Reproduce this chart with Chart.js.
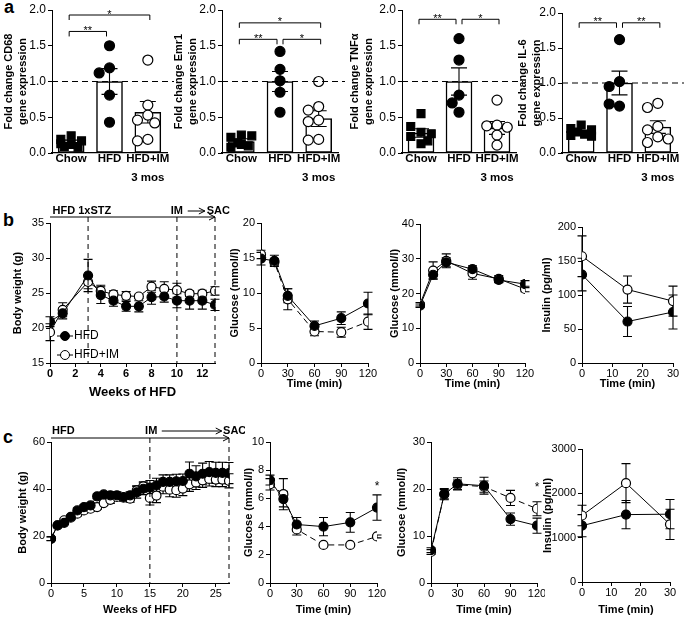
<!DOCTYPE html>
<html>
<head>
<meta charset="utf-8">
<script src="https://cdn.jsdelivr.net/npm/chart.js@4.4.0/dist/chart.umd.min.js"></script>
<style>
  body { margin: 0; background: #fff; }
  #fig { position: relative; width: 685px; height: 617px; overflow: hidden; background: #fff; }
  #fig canvas { position: absolute; }
  .panel-letter { position: absolute; font: bold 18px 'Liberation Sans', Arial, sans-serif; line-height: 18px; }
</style>
</head>
<body>
<div id="fig">
  <div class="panel-letter" style="left:4px;top:-2px">a</div>
  <div class="panel-letter" style="left:3px;top:211px">b</div>
  <div class="panel-letter" style="left:3px;top:428px">c</div>
</div>
<script>
const FONT = "'Liberation Sans', Arial, Helvetica, sans-serif";

// ---------- a: fold change gene expression (each mouse + mean / SEM)
const groupLabels = ["Chow", "HFD", ["HFD+IM", "3 mos"]];

const cd68Chow = [0.24, 0.19, 0.17, 0.12, 0.09, 0.08, 0.13];
const cd68Hfd = [1.50, 1.19, 1.12, 0.81, 0.43];
const cd68Im = [1.30, 0.67, 0.53, 0.46, 0.42, 0.19, 0.17];
const cd68Mean = [0.15, 1.0, 0.57];
const cd68Sem = [0.03, 0.18, 0.15];
const cd68Sig = [[0, 1, 1.70, "**"], [0, 2, 1.93, "*"]];

const emr1Chow = [0.25, 0.22, 0.24, 0.14, 0.10, 0.08, 0.12];
const emr1Hfd = [1.42, 1.17, 1.01, 0.85, 0.57];
const emr1Im = [1.00, 0.65, 0.60, 0.46, 0.44, 0.19, 0.18];
const emr1Mean = [0.16, 1.0, 0.48];
const emr1Sem = [0.04, 0.14, 0.11];
const emr1Sig = [[0, 2, 1.82, "*"], [0, 1, 1.59, "**"], [1, 2, 1.59, "*"]];

const tnfChow = [0.55, 0.29, 0.23, 0.37, 0.27, 0.13, 0.17];
const tnfHfd = [1.60, 1.30, 0.81, 0.70, 0.57];
const tnfIm = [0.74, 0.39, 0.38, 0.36, 0.25, 0.11];
const tnfMean = [0.28, 1.0, 0.35];
const tnfSem = [0.06, 0.19, 0.09];
const tnfSig = [[0, 1, 1.87, "**"], [1, 2, 1.87, "*"]];

const il6Chow = [0.40, 0.35, 0.33, 0.30, 0.27, 0.25, 0.24];
const il6Hfd = [1.62, 1.02, 0.95, 0.67, 0.70];
const il6Im = [0.71, 0.65, 0.38, 0.33, 0.23, 0.15, 0.20];
const il6Mean = [0.30, 1.0, 0.37];
const il6Sem = [0.02, 0.17, 0.09];
const il6Sig = [[0, 1, 1.86, "**"], [1, 2, 1.86, "**"]];

// ---------- b: HFD + 1xSTZ model
const weeksB = [0, 1, 3, 4, 5, 6, 7, 8, 9, 10, 11, 12, 13];
const bwHfdB = [20.9, 22.1, 27.5, 24.7, 23.9, 23.1, 23.1, 24.4, 24.5, 23.9, 23.9, 23.9, 23.3];
const bwHfdBErr = [0.7, 0.8, 2.3, 1.2, 0.8, 0.7, 0.8, 1.0, 0.8, 1.0, 1.2, 1.2, 0.8];
const bwImB = [19.4, 22.6, 26.6, 25.3, 24.8, 24.6, 24.5, 25.9, 25.6, 25.4, 24.9, 24.9, 25.3];
const bwImBErr = [1.2, 1.0, 1.0, 0.8, 0.5, 0.6, 0.3, 0.8, 1.0, 1.0, 0.4, 0.5, 0.6];

const tolTime = [0, 15, 30, 60, 90, 120];
const ittHfdB = [14.9, 14.6, 9.6, 5.3, 6.4, 8.5];
const ittHfdBErr = [0.9, 0.8, 1.0, 0.7, 0.9, 1.6];
const ittImB = [15.5, 14.4, 9.1, 4.5, 4.4, 5.9];
const ittImBErr = [0.6, 0.5, 1.5, 0.6, 0.7, 1.1];

const gttHfdB = [16.5, 25.4, 29.0, 27.0, 23.9, 22.7];
const gttHfdBErr = [0.5, 1.2, 1.3, 1.0, 0.8, 1.0];
const gttImB = [16.9, 26.6, 29.4, 25.8, 24.2, 21.3];
const gttImBErr = [0.5, 2.5, 2.0, 1.7, 1.0, 0.8];

const insTime = [0, 15, 30];
const insHfdB = [130, 61, 75];
const insHfdBErr = [24, 22, 25];
const insImB = [157, 108, 91];
const insImBErr = [30, 20, 22];

// ---------- c: long HFD model
const weeksC = [0, 1, 2, 3, 4, 5, 6, 7, 8, 9, 10, 11, 12, 13, 14, 15, 16, 17, 18, 19, 20, 21, 22, 23, 24, 25, 26, 27];
const bwHfdC = [18.8, 24.5, 25.6, 28.1, 30.9, 32.3, 33.0, 36.9, 37.7, 37.3, 37.3, 36.6, 37.3, 38.6, 40.1, 40.6, 41.6, 43.0, 43.0, 43.3, 43.4, 46.5, 45.4, 46.5, 47.2, 46.9, 46.9, 46.8];
const bwHfdCErr = [0.8, 0.8, 0.8, 0.9, 1, 1, 1, 1, 1, 1.5, 1.5, 1.5, 1.5, 2.5, 2.5, 3, 3, 3, 3, 3, 3, 5, 4.5, 4.5, 4.5, 4.5, 4.5, 4.5];
const bwImC = [18.9, 24.5, 26.7, 27.8, 29.5, 30.9, 31.6, 32.3, 34.0, 35.4, 36.6, 36.3, 35.9, 39.4, 41.1, 36.2, 37.2, 41.0, 39.7, 39.5, 40.2, 42.0, 42.8, 43.7, 44.3, 44.0, 44.0, 43.5];
const bwImCErr = [0.8, 0.8, 0.8, 0.9, 1, 1, 1, 1, 1, 1.5, 1.5, 1.5, 1.5, 2, 2, 3, 3, 3, 3, 3, 3, 3, 3, 3, 3, 3, 3, 3];

const ittHfdC = [7.3, 5.95, 4.15, 4.0, 4.3, 5.35];
const ittHfdCErr = [0.35, 0.55, 0.5, 0.65, 0.7, 0.9];
const ittImC = [7.0, 6.3, 3.8, 2.7, 2.7, 3.3];
const ittImCErr = [0.4, 1.1, 0.4, 0.1, 0.1, 0.1];
const ittStarC = [[120, 6.8]];

const gttHfdC = [7.0, 18.9, 21.1, 20.7, 13.6, 12.2];
const gttHfdCErr = [0.5, 1.0, 1.3, 1.8, 1.3, 1.6];
const gttImC = [6.6, 18.9, 20.9, 20.5, 18.1, 15.8];
const gttImCErr = [0.5, 1.2, 1.0, 1.2, 1.6, 1.5];
const gttStarC = [[120, 20.2]];

const insHfdC = [1270, 1520, 1530];
const insHfdCErr = [250, 320, 330];
const insImC = [1500, 2230, 1300];
const insImCErr = [230, 440, 340];

// ------------------------------------------------------------------
Chart.defaults.font.family = FONT;
Chart.defaults.color = "#000";

const fig = document.getElementById("fig");
const decorCfg = {};

function makeCanvas(id, box, m) {
    const cv = document.createElement("canvas");
    const w = box.r - box.l + m.l + m.r;
    const h = box.b - box.t + m.t + m.b;
    cv.id = id;
    cv.width = w;
    cv.height = h;
    cv.style.left = (box.l - m.l) + "px";
    cv.style.top = (box.t - m.t) + "px";
    cv.style.width = w + "px";
    cv.style.height = h + "px";
    fig.appendChild(cv);
    return cv;
}

function drawErrors(chart, ds) {
    const ctx = chart.ctx;
    const xs = chart.scales.x, ys = chart.scales.y;
    const cap = ds.capWidth || 9;
    ctx.save();
    ctx.strokeStyle = "#000";
    ctx.lineWidth = 1.1;
    ds.data.forEach((p, j) => {
        const e = ds.errors[j];
        if (!e) return;
        const x = xs.getPixelForValue(p.x);
        const y1 = ys.getPixelForValue(p.y + e);
        const y2 = ys.getPixelForValue(p.y - e);
        ctx.beginPath();
        ctx.moveTo(x, y1); ctx.lineTo(x, y2);
        ctx.moveTo(x - cap / 2, y1); ctx.lineTo(x + cap / 2, y1);
        ctx.moveTo(x - cap / 2, y2); ctx.lineTo(x + cap / 2, y2);
        ctx.stroke();
    });
    ctx.restore();
}

// error bars: under the markers for lines, on top of the bar for bar panels
const errorBars = {
    id: "errorBars",
    beforeDatasetsDraw(chart) {
        chart.data.datasets.forEach(ds => {
            if (ds.errors && ds.type !== "bar") drawErrors(chart, ds);
        });
    },
    afterDatasetDraw(chart, args) {
        const ds = chart.data.datasets[args.index];
        if (ds.errors && ds.type === "bar") drawErrors(chart, ds);
    },
};

function seg(ctx, x1, y1, x2, y2) {
    ctx.beginPath();
    ctx.moveTo(x1, y1);
    ctx.lineTo(x2, y2);
    ctx.stroke();
}

function arrowHead(ctx, x, y) {
    ctx.beginPath();
    ctx.moveTo(x - 6, y - 3);
    ctx.lineTo(x, y);
    ctx.lineTo(x - 6, y + 3);
    ctx.stroke();
}

// dashed reference line, significance brackets, timeline, legend, stars
const decor = {
    id: "decor",
    afterDraw(chart) {
        const d = decorCfg[chart.canvas.id];
        if (!d) return;
        const ctx = chart.ctx;
        const a = chart.chartArea;
        const x = chart.scales.x, y = chart.scales.y;
        ctx.save();
        ctx.strokeStyle = "#000";
        ctx.fillStyle = "#000";
        ctx.lineWidth = 1;

        if (d.refLine != null) {
            const py = y.getPixelForValue(d.refLine);
            ctx.setLineDash([6, 4]);
            ctx.lineWidth = 1.2;
            seg(ctx, a.left, py, a.right + 7, py);
            ctx.setLineDash([]);
            ctx.lineWidth = 1;
        }

        (d.brackets || []).forEach(([i0, i1, yv, label]) => {
            const xa = x.getPixelForValue(i0) + (i0 === 1 ? 3 : -2);
            const xb = x.getPixelForValue(i1) + (i1 === 1 ? -3 : 2);
            const py = y.getPixelForValue(yv);
            ctx.beginPath();
            ctx.moveTo(xa, py + 5);
            ctx.lineTo(xa, py);
            ctx.lineTo(xb, py);
            ctx.lineTo(xb, py + 5);
            ctx.stroke();
            ctx.font = "11px " + FONT;
            ctx.textAlign = "center";
            ctx.textBaseline = "alphabetic";
            ctx.fillText(label, (xa + xb) / 2, py + 2.5);
        });

        (d.stars || []).forEach(([sx, sy]) => {
            ctx.font = "12px " + FONT;
            ctx.textAlign = "center";
            ctx.textBaseline = "middle";
            ctx.fillText("*", x.getPixelForValue(sx), y.getPixelForValue(sy));
        });

        if (d.timeline) {
            const t = d.timeline;
            const ay = a.top - t.gap;
            ctx.setLineDash([5, 4]);
            t.vlines.forEach(v => {
                const px = x.getPixelForValue(v);
                seg(ctx, px, ay, px, a.bottom);
            });
            ctx.setLineDash([]);
            const x0 = x.getPixelForValue(x.min), x1 = x.getPixelForValue(x.max);
            seg(ctx, x0, ay, x1, ay);
            arrowHead(ctx, x1, ay);
            ctx.font = "bold 11px " + FONT;
            ctx.textBaseline = "middle";
            const ty = ay - t.textGap;
            t.labels.forEach(l => {
                ctx.textAlign = l.align;
                ctx.fillText(l.text, x.getPixelForValue(l.x), ty);
            });
            t.arrows.forEach(([f, to]) => {
                const pf = x.getPixelForValue(f), pt = x.getPixelForValue(to);
                seg(ctx, pf, ty, pt, ty);
                arrowHead(ctx, pt, ty);
            });
        }

        if (d.legend) {
            ctx.font = "12px " + FONT;
            ctx.textAlign = "left";
            ctx.textBaseline = "middle";
            d.legend.forEach((it, k) => {
                const ly = a.bottom - (k === 0 ? 27 : 8);
                const lx = a.left + 7;
                seg(ctx, lx, ly, lx + 16, ly);
                ctx.beginPath();
                ctx.arc(lx + 8, ly, 4.5, 0, Math.PI * 2);
                ctx.fillStyle = it.open ? "#fff" : "#000";
                ctx.fill();
                ctx.stroke();
                ctx.fillStyle = "#000";
                ctx.fillText(it.text, lx + 17, ly);
            });
        }
        ctx.restore();
    },
};

Chart.register(errorBars, decor);

function baseOptions(m, scales) {
    return {
        responsive: false,
        animation: false,
        devicePixelRatio: 1,
        events: [],
        layout: { padding: { left: 0, top: m.t, right: m.r, bottom: 0 } },
        plugins: { legend: { display: false }, tooltip: { enabled: false } },
        scales: scales,
    };
}

function yScale(m, min, max, step, title, pt, fmt, tickSize) {
    return {
        type: "linear",
        min: min,
        max: max,
        afterFit: s => { s.width = m.l; s.paddingTop = 0; s.paddingBottom = 0; },
        border: { display: true, color: "#000", width: 1 },
        grid: { display: true, drawOnChartArea: false, drawTicks: true, tickLength: 4, color: "#000", lineWidth: 1 },
        ticks: { stepSize: step, padding: 2, autoSkip: false, font: { size: tickSize || 11 }, callback: fmt || (v => v) },
        title: { display: true, text: title, font: { size: 11, weight: "bold", lineHeight: 1.25 }, padding: { top: pt, bottom: 0 } },
    };
}

function xScale(m, min, max, step, title, titleSize, tickBold) {
    return {
        type: "linear",
        min: min,
        max: max,
        offset: false,
        afterFit: s => { s.height = m.b; s.paddingLeft = 0; s.paddingRight = 0; },
        border: { display: true, color: "#000", width: 1 },
        grid: { display: true, drawOnChartArea: false, drawTicks: true, tickLength: 4, color: "#000", lineWidth: 1 },
        ticks: { stepSize: step, includeBounds: false, autoSkip: false, maxRotation: 0, padding: 0,
                 font: { size: 11, weight: tickBold ? "bold" : "normal" }, callback: v => v },
        title: { display: true, text: title, font: { size: titleSize || 11, weight: "bold" }, padding: { top: 0, bottom: 0 } },
    };
}

// simple beeswarm so the dots of one group do not sit on each other
function swarm(vals, center) {
    const placed = [];
    const cand = [0, -0.18, 0.18, -0.09, 0.09, -0.27, 0.27];
    return vals.map(v => {
        let best = 0, bestD = -1;
        for (const c of cand) {
            let dmin = Infinity;
            placed.forEach(p => {
                dmin = Math.min(dmin, Math.hypot((p.x - c) * 38, (p.y - v) * 71.5));
            });
            if (dmin >= 10) { best = c; break; }
            if (dmin > bestD) { bestD = dmin; best = c; }
        }
        placed.push({ x: best, y: v });
        return { x: center + best, y: v };
    });
}

function pointSet(data, style, radius, fill) {
    return {
        type: "scatter",
        data: data,
        pointStyle: style,
        pointRadius: radius,
        pointBackgroundColor: fill,
        pointBorderColor: "#000",
        pointBorderWidth: 1.2,
        order: 0,
    };
}

function barPanel(id, box, m, pt, title, d) {
    const cv = makeCanvas(id, box, m);
    const pts = [d.chow, d.hfd, d.im].map((v, i) => swarm(v, i));
    decorCfg[id] = { refLine: 1, brackets: d.sig };
    return new Chart(cv, {
        type: "bar",
        data: {
            datasets: [
                pointSet(pts[0], "rect", 5.6, "#000"),
                pointSet(pts[1], "circle", 5, "#000"),
                pointSet(pts[2], "circle", 5, "#fff"),
                {
                    type: "bar",
                    data: d.mean.map((v, i) => ({ x: i, y: v })),
                    errors: d.sem,
                    capWidth: 16,
                    backgroundColor: "#fff",
                    borderColor: "#000",
                    borderWidth: 1.5,
                    borderSkipped: false,
                    barThickness: 26,
                    order: 1,
                },
            ],
        },
        options: baseOptions(m, {
            x: {
                type: "linear",
                min: -0.5,
                max: 2.5,
                offset: false,
                afterBuildTicks: s => { s.ticks = [0, 1, 2].map(v => ({ value: v })); },
                afterFit: s => { s.height = m.b; s.paddingLeft = 0; s.paddingRight = 0; },
                border: { display: true, color: "#000", width: 1.2 },
                grid: { display: false, drawTicks: false },
                ticks: { autoSkip: false, maxRotation: 0, padding: -3,
                         font: { size: 11.5, weight: "bold", lineHeight: 1.6 }, callback: v => groupLabels[v] },
            },
            y: yScale(m, 0, 2, 0.5, title, pt, v => v.toFixed(1), 12),
        }),
    });
}

function series(xv, yv, err, open, dash) {
    return {
        type: "line",
        data: xv.map((x, i) => ({ x: x, y: yv[i] })),
        errors: err,
        borderColor: "#000",
        borderWidth: 1,
        borderDash: dash ? [6, 4] : [],
        tension: 0,
        fill: false,
        pointRadius: 4.5,
        pointBackgroundColor: open ? "#fff" : "#000",
        pointBorderColor: "#000",
        pointBorderWidth: 1.2,
    };
}

function linePanel(id, box, m, o) {
    const cv = makeCanvas(id, box, m);
    if (o.decor) decorCfg[id] = o.decor;
    return new Chart(cv, {
        type: "line",
        data: { datasets: o.series },
        options: baseOptions(m, {
            x: xScale(m, o.x[0], o.x[1], o.x[2], o.xTitle, o.xTitleSize, o.xBold),
            y: yScale(m, o.y[0], o.y[1], o.y[2], o.yTitle, o.pt),
        }),
    });
}

// ---------------- row a
barPanel("a1", { l: 52, t: 10, r: 167, b: 153 }, { l: 52, t: 10, r: 10, b: 40 }, 2,
    ["Fold change CD68", "gene expression"],
    { chow: cd68Chow, hfd: cd68Hfd, im: cd68Im, mean: cd68Mean, sem: cd68Sem, sig: cd68Sig });
barPanel("a2", { l: 222, t: 10, r: 338, b: 153 }, { l: 52, t: 10, r: 10, b: 40 }, 2,
    ["Fold change Emr1", "gene expression"],
    { chow: emr1Chow, hfd: emr1Hfd, im: emr1Im, mean: emr1Mean, sem: emr1Sem, sig: emr1Sig });
barPanel("a3", { l: 402, t: 10, r: 516, b: 153 }, { l: 62, t: 10, r: 10, b: 40 }, 8,
    ["Fold change TNFα", "gene expression"],
    { chow: tnfChow, hfd: tnfHfd, im: tnfIm, mean: tnfMean, sem: tnfSem, sig: tnfSig });
barPanel("a4", { l: 562, t: 13, r: 677, b: 153 }, { l: 50, t: 13, r: 8, b: 40 }, 4,
    ["Fold change IL-6", "gene expression"],
    { chow: il6Chow, hfd: il6Hfd, im: il6Im, mean: il6Mean, sem: il6Sem, sig: il6Sig });

// ---------------- row b
linePanel("b1", { l: 50, t: 223, r: 215, b: 363 }, { l: 50, t: 30, r: 22, b: 37 }, {
    x: [0, 13, 2], y: [15, 35, 5], xTitle: "Weeks of HFD", xTitleSize: 13, xBold: true,
    yTitle: "Body weight (g)", pt: 11,
    series: [series(weeksB, bwHfdB, bwHfdBErr, false, false), series(weeksB, bwImB, bwImBErr, true, false)],
    decor: {
        timeline: {
            gap: 6, textGap: 6, vlines: [3, 10, 13],
            labels: [{ text: "HFD 1xSTZ", x: 0.2, align: "left" }, { text: "IM", x: 10, align: "center" },
                     { text: "SAC", x: 12.35, align: "left" }],
            arrows: [[10.85, 12.2]],
        },
        legend: [{ text: "HFD", open: false }, { text: "HFD+IM", open: true }],
    },
});
linePanel("b2", { l: 261, t: 223, r: 368, b: 363 }, { l: 33, t: 10, r: 12, b: 28 }, {
    x: [0, 120, 30], y: [0, 20, 5], xTitle: "Time (min)", yTitle: "Glucose (mmol/l)", pt: 0.4,
    series: [series(tolTime, ittHfdB, ittHfdBErr, false, false), series(tolTime, ittImB, ittImBErr, true, true)],
});
linePanel("b3", { l: 420, t: 224, r: 525, b: 363 }, { l: 32, t: 10, r: 12, b: 28 }, {
    x: [0, 120, 30], y: [0, 40, 10], xTitle: "Time (min)", yTitle: "Glucose (mmol/l)", pt: 0.4,
    series: [series(tolTime, gttHfdB, gttHfdBErr, false, false), series(tolTime, gttImB, gttImBErr, true, false)],
});
linePanel("b4", { l: 582, t: 227, r: 673, b: 363 }, { l: 42, t: 10, r: 10, b: 28 }, {
    x: [0, 30, 10], y: [0, 200, 50], xTitle: "Time (min)", yTitle: "Insulin (pg/ml)", pt: 0.4,
    series: [series(insTime, insHfdB, insHfdBErr, false, false), series(insTime, insImB, insImBErr, true, false)],
});

// ---------------- row c
linePanel("c1", { l: 51, t: 442, r: 229, b: 583 }, { l: 51, t: 30, r: 16, b: 34 }, {
    x: [0, 27, 5], y: [0, 60, 20], xTitle: "Weeks of HFD", yTitle: "Body weight (g)", pt: 16.4,
    series: [series(weeksC, bwHfdC, bwHfdCErr, false, false), series(weeksC, bwImC, bwImCErr, true, false)],
    decor: {
        timeline: {
            gap: 4, textGap: 7, vlines: [15, 27],
            labels: [{ text: "HFD", x: 0.15, align: "left" }, { text: "IM", x: 15.2, align: "center" },
                     { text: "SAC", x: 26.1, align: "left" }],
            arrows: [[16.8, 25.9]],
        },
    },
});
linePanel("c2", { l: 270, t: 442, r: 377, b: 583 }, { l: 28, t: 10, r: 10, b: 34 }, {
    x: [0, 120, 30], y: [0, 10, 2], xTitle: "Time (min)", yTitle: "Glucose (mmol/l)", pt: 0.4,
    series: [series(tolTime, ittHfdC, ittHfdCErr, false, false), series(tolTime, ittImC, ittImCErr, true, true)],
    decor: { stars: ittStarC },
});
linePanel("c3", { l: 431, t: 442, r: 537, b: 583 }, { l: 36, t: 10, r: 8, b: 34 }, {
    x: [0, 120, 30], y: [0, 30, 10], xTitle: "Time (min)", yTitle: "Glucose (mmol/l)", pt: 0.4,
    series: [series(tolTime, gttHfdC, gttHfdCErr, false, false), series(tolTime, gttImC, gttImCErr, true, true)],
    decor: { stars: gttStarC },
});
linePanel("c4", { l: 582, t: 449, r: 670, b: 582 }, { l: 41, t: 10, r: 12, b: 35 }, {
    x: [0, 30, 10], y: [0, 3000, 1000], xTitle: "Time (min)", yTitle: "Insulin (pg/ml)", pt: 0.4,
    series: [series(insTime, insHfdC, insHfdCErr, false, false), series(insTime, insImC, insImCErr, true, false)],
});
</script>
</body>
</html>
